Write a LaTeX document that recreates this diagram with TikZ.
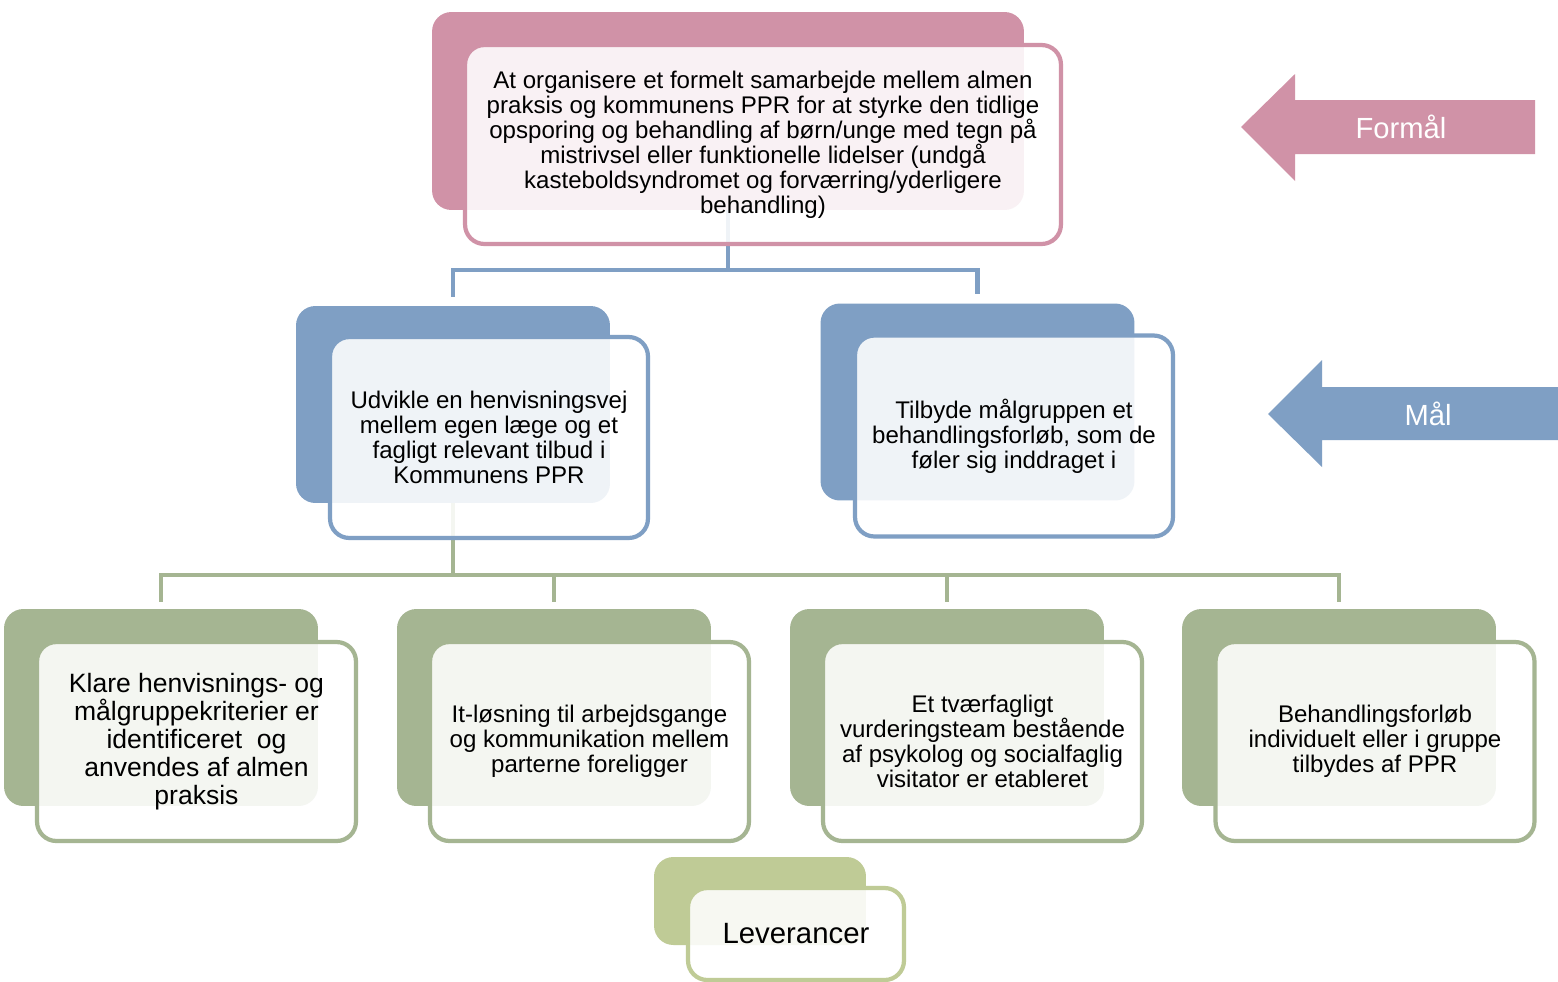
\documentclass[tikz,border=0pt]{standalone}
\usepackage{fontspec}
\setmainfont{Liberation Sans}
\usetikzlibrary{positioning}

\definecolor{rosa}{HTML}{D092A7}
\definecolor{blaa}{HTML}{7F9FC4}
\definecolor{groen}{HTML}{A5B592}
\definecolor{lysgroen}{HTML}{BFCB96}

\tikzset{
  bagkort/.style={fill=#1, rounded corners=11pt, inner sep=0pt},
  forkort/.style={draw=#1, line width=2.4pt, fill=white, fill opacity=0.88,
    text opacity=1, text=black, rounded corners=11pt, align=center, inner sep=0pt},
  streg/.style={draw=#1, line width=2.3pt},
  pil/.style={fill=#1, draw=none},
  normtekst/.style={font=\fontsize{13.7}{14.2}\selectfont},
  stortekst/.style={font=\fontsize{15.1}{15.9}\selectfont},
  pilnavn/.style={text=white, font=\fontsize{16.6}{19}\selectfont}
}

\begin{document}
\begin{tikzpicture}[x=0.02cm, y=-0.02cm]
\useasboundingbox[fill=white] (0,0) rectangle (1558,981);

% bagerste kort
\node[bagkort=rosa, minimum width=11.84cm, minimum height=3.96cm] (formback) at (728,111) {};
\node[bagkort=blaa, minimum width=6.28cm, minimum height=3.94cm] (vback) at (453,404.5) {};
\node[bagkort=blaa, minimum width=6.28cm, minimum height=3.94cm] (hback) at (977.5,402) {};
\foreach \x/\n in {161/a,554/b,947/c,1339/d} {
  \node[bagkort=groen, minimum width=6.28cm, minimum height=3.94cm] (lev\n back) at (\x,707.5) {};
}
\node[bagkort=lysgroen, minimum width=4.24cm, minimum height=1.76cm] (levback) at (760,901) {};

% forbindelser
\foreach \b in {vback,hback} {
  \draw[streg=blaa, shorten >=0.18cm] (formback.south) -- ++(0,60) -| (\b.north);
}
\foreach \n in {a,b,c,d} {
  \draw[streg=groen, shorten >=0.14cm] (vback.south) -- ++(0,72) -| (lev\n back.north);
}

% forreste kort
\node[forkort=rosa, normtekst, minimum width=11.92cm, minimum height=3.98cm] (formaal) at (763,144.5)
  {At organisere et formelt samarbejde mellem almen\\
   praksis og kommunens PPR for at styrke den tidlige\\
   opsporing og behandling af børn/unge med tegn på\\
   mistrivsel eller funktionelle lidelser (undgå\\
   kasteboldsyndromet og forværring/yderligere\\
   behandling)};
\node[forkort=blaa, normtekst, minimum width=6.36cm, minimum height=4.02cm] (maalv) at (489,437.5)
  {Udvikle en henvisningsvej\\ mellem egen læge og et\\ fagligt relevant tilbud i\\ Kommunens PPR};
\node[forkort=blaa, normtekst, minimum width=6.36cm, minimum height=4.02cm] (maalh) at (1014,436)
  {Tilbyde målgruppen et\\ behandlingsforløb, som de\\ føler sig inddraget i};
\node[forkort=groen, stortekst, minimum width=6.38cm, minimum height=3.98cm] (leva) at (196.5,741.5)
  {Klare henvisnings- og\\ målgruppekriterier er\\ identificeret\ \ og\\ anvendes af almen\\ praksis};
\node[forkort=groen, normtekst, minimum width=6.38cm, minimum height=3.98cm] (levb) at (589.5,741.5)
  {It-løsning til arbejdsgange\\ og kommunikation mellem\\ parterne foreligger};
\node[forkort=groen, normtekst, minimum width=6.38cm, minimum height=3.98cm] (levc) at (982.5,741.5)
  {Et tværfagligt\\ vurderingsteam bestående\\ af psykolog og socialfaglig\\ visitator er etableret};
\node[forkort=groen, normtekst, minimum width=6.38cm, minimum height=3.98cm] (levd) at (1375,741.5)
  {Behandlingsforløb\\ individuelt eller i gruppe\\ tilbydes af PPR};
\node[forkort=lysgroen, font=\fontsize{16.7}{19}\selectfont, minimum width=4.32cm, minimum height=1.84cm] (leverancer) at (796,934)
  {Leverancer};

% pile
\fill[pil=rosa] (1241,127) -- (1295,74) -- (1295,100) -- (1535,100) -- (1535,154) -- (1295,154) -- (1295,181) -- cycle;
\node[pilnavn] (formaalpil) at (1401,127) {Formål};
\fill[pil=blaa] (1268,414) -- (1322,360) -- (1322,387) -- (1558,387) -- (1558,440) -- (1322,440) -- (1322,467) -- cycle;
\node[pilnavn] (maalpil) at (1428,414) {Mål};
\end{tikzpicture}
\end{document}
